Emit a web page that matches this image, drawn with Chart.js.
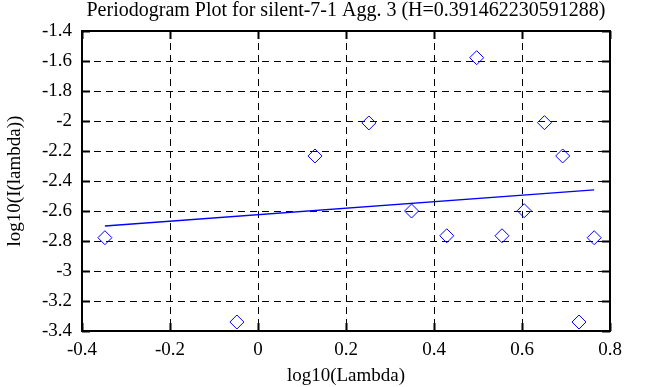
<!DOCTYPE html>
<html>
<head>
<meta charset="utf-8">
<script src="https://cdn.jsdelivr.net/npm/chart.js@4.4.1/dist/chart.umd.min.js"></script>
<style>
  body { margin: 0; background: #fff; }
  #chart { display: block; }
</style>
</head>
<body>
<canvas id="chart" width="653" height="387"></canvas>
<script>
// datos del periodograma
const lambdaLog = [-0.348, -0.048, 0.1295, 0.252, 0.497, 0.651, 0.6925, 0.349, 0.429, 0.5545, 0.605, 0.764, 0.7295];
const periodLog = [-2.778, -3.34, -2.233, -2.013, -1.578, -2.011, -2.233, -2.6, -2.765, -2.765, -2.598, -2.778, -3.34];

// recta de ajuste
const fitX = [-0.348, 0.764];
const fitY = [-2.70, -2.459];

const xTicks = [-0.4, -0.2, 0, 0.2, 0.4, 0.6, 0.8];
const xTickLabels = ["-0.4", "-0.2", "0", "0.2", "0.4", "0.6", "0.8"];
const yTicks = [-1.4, -1.6, -1.8, -2, -2.2, -2.4, -2.6, -2.8, -3, -3.2, -3.4];
const yTickLabels = ["-1.4", "-1.6", "-1.8", "-2", "-2.2", "-2.4", "-2.6", "-2.8", "-3", "-3.2", "-3.4"];

const titleText = "Periodogram Plot for silent-7-1 Agg. 3 (H=0.391462230591288)";

const serif = "'Liberation Serif', 'Times New Roman', serif";
const BLUE = "#0000ff";

// marco y marcas de eje estilo gnuplot
const framePlugin = {
  id: "frame",
  beforeDatasetsDraw(chart) {
    const { ctx, chartArea: a, scales } = chart;
    ctx.save();
    ctx.strokeStyle = "#000";
    ctx.lineWidth = 2;
    ctx.setLineDash([]);
    ctx.beginPath();
    xTicks.forEach(function (v) {
      const px = Math.round(scales.x.getPixelForValue(v)) + 0.5;
      ctx.moveTo(px, a.bottom); ctx.lineTo(px, a.bottom - 8);
      ctx.moveTo(px, a.top); ctx.lineTo(px, a.top + 8);
    });
    yTicks.forEach(function (v) {
      const py = Math.round(scales.y.getPixelForValue(v)) + 0.5;
      ctx.moveTo(a.left, py); ctx.lineTo(a.left + 8, py);
      ctx.moveTo(a.right, py); ctx.lineTo(a.right - 8, py);
    });
    ctx.stroke();
    ctx.strokeRect(a.left, a.top, a.right - a.left, a.bottom - a.top);
    ctx.restore();
  }
};

const ctx = document.getElementById("chart").getContext("2d");

new Chart(ctx, {
  type: "scatter",
  data: {
    datasets: [
      {
        label: "periodogram",
        data: lambdaLog.map((x, i) => ({ x: x, y: periodLog[i] })),
        pointStyle: "rectRot",
        pointRadius: 7,
        pointHoverRadius: 7,
        borderColor: BLUE,
        backgroundColor: "rgba(0,0,0,0)",
        borderWidth: 1,
        order: 1
      },
      {
        label: "fit",
        data: fitX.map((x, i) => ({ x: x, y: fitY[i] })),
        showLine: true,
        pointRadius: 0,
        borderColor: BLUE,
        borderWidth: 1.3,
        order: 2
      }
    ]
  },
  options: {
    responsive: false,
    animation: false,
    devicePixelRatio: 1,
    layout: { padding: { left: 0, right: 43, top: 0, bottom: 0 } },
    plugins: {
      legend: { display: false },
      tooltip: { enabled: false },
      title: {
        display: true,
        fullSize: false,
        text: titleText,
        color: "#000",
        font: { family: serif, size: 20, weight: "normal", lineHeight: 1 },
        padding: { top: 1, bottom: 10 }
      }
    },
    scales: {
      x: {
        type: "linear",
        min: -0.4,
        max: 0.8,
        afterBuildTicks: (s) => { s.ticks = xTicks.map((v) => ({ value: v })); },
        afterFit: (s) => { s.height = 56; },
        ticks: {
          color: "#000",
          padding: 9.5,
          font: { family: serif, size: 19, lineHeight: 1 },
          callback: (v) => xTickLabels[xTicks.findIndex((t) => Math.abs(t - v) < 1e-9)]
        },
        grid: { color: "#000", lineWidth: 1, drawTicks: false },
        border: { display: false, dash: [7, 5] },
        title: {
          display: true,
          text: "log10(Lambda)",
          color: "#000",
          font: { family: serif, size: 19, lineHeight: 1 },
          padding: { top: 0, bottom: 1.5 }
        }
      },
      y: {
        type: "linear",
        min: -3.4,
        max: -1.4,
        afterBuildTicks: (s) => { s.ticks = yTicks.map((v) => ({ value: v })); },
        afterFit: (s) => { s.width = 82; },
        ticks: {
          color: "#000",
          padding: 10,
          font: { family: serif, size: 19, lineHeight: 1 },
          callback: (v) => yTickLabels[yTicks.findIndex((t) => Math.abs(t - v) < 1e-9)]
        },
        grid: { color: "#000", lineWidth: 1, drawTicks: false },
        border: { display: false, dash: [7, 5] },
        title: {
          display: true,
          text: "log10(I(lambda))",
          color: "#000",
          font: { family: serif, size: 19, lineHeight: 1 },
          padding: { top: 5.5, bottom: 0 }
        }
      }
    }
  },
  plugins: [framePlugin]
});
</script>
</body>
</html>
